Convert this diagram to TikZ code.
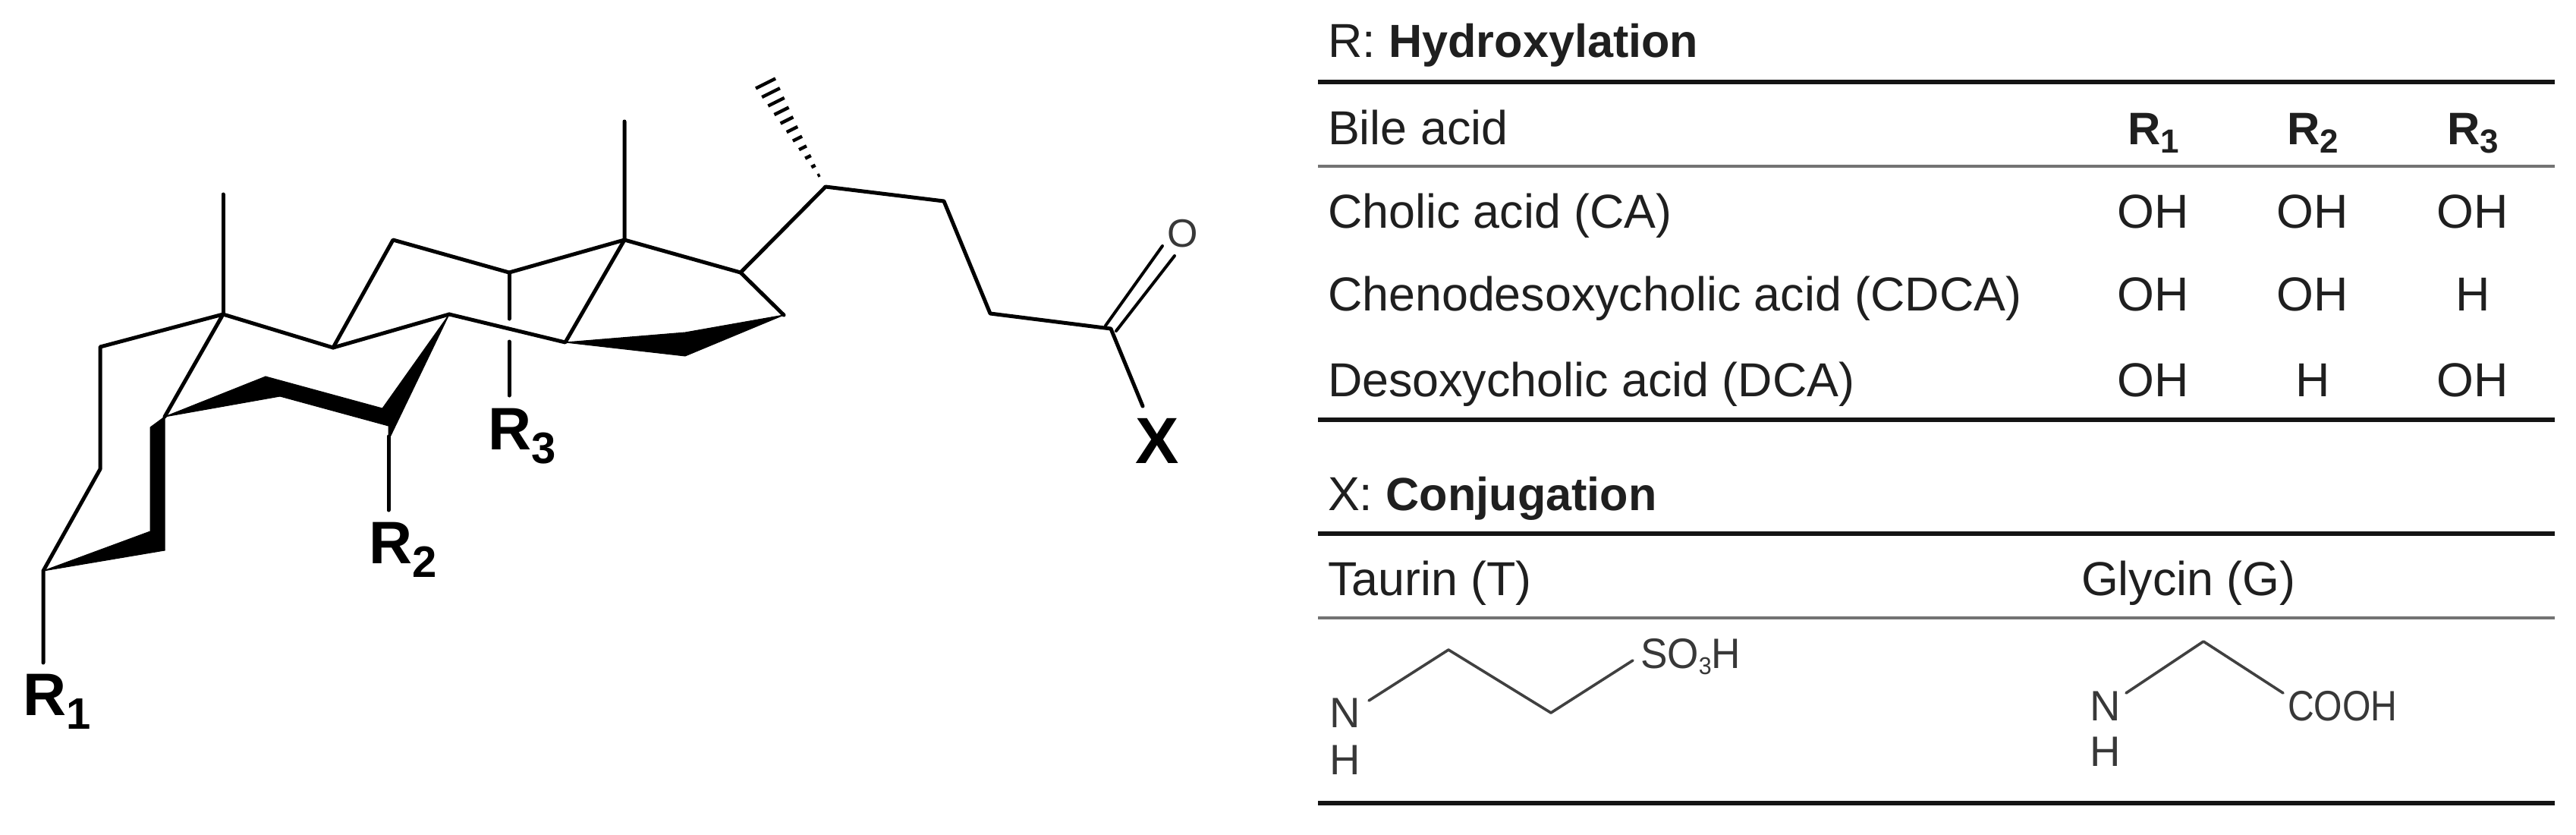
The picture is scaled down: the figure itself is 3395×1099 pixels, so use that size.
\documentclass[tikz,border=0pt]{standalone}
\usepackage{fontspec}
\setmainfont{Liberation Sans}
\usetikzlibrary{calc}
\newcommand\bigsub[1]{\raisebox{-9pt}{\fontsize{29}{29}\selectfont #1}}
\newcommand\tabsub[1]{\raisebox{-5.8pt}{\fontsize{22}{22}\selectfont #1}}
\newcommand\chemsub[1]{\raisebox{-4pt}{\fontsize{16}{16}\selectfont #1}}
\tikzset{
  bond/.style={line width=2.5pt,line join=round,line cap=round,black},
  solid wedge/.style={fill=black,draw=black,line width=0.5pt,line join=round},
  hashbar/.style={line width=2.2pt,black},
  lab/.style={inner sep=0pt,outer sep=0pt,anchor=base west},
  bigR/.style={lab,font=\fontsize{39.5}{41}\selectfont\bfseries},
  cell/.style={inner sep=0pt,outer sep=0pt,anchor=base west,font=\fontsize{31.4}{36}\selectfont,text=black!88},
  cc/.style={cell,anchor=base},
  heavy/.style={line width=2.6pt,black!92},
  light/.style={line width=1.6pt,black!55},
  chem/.style={line width=1.8pt,black!75,line cap=round,line join=round},
  atom/.style={inner sep=0pt,outer sep=0pt,anchor=base,font=\fontsize{28}{30}\selectfont,text=black!78},
}
\begin{document}
\begin{tikzpicture}[x=0.5pt,y=-0.5pt]
\useasboundingbox[fill=white] (0,0) rectangle (3395,1099);
% ---- skeleton atoms
\coordinate (me19) at (294,256);
\coordinate (c10) at (294,414);
\coordinate (c1) at (132,457);
\coordinate (c2) at (132,618);
\coordinate (c3) at (57,752);
\coordinate (r1end) at (57,873);
\coordinate (c5) at (217,549);
\coordinate (c9) at (439,458);
\coordinate (c11) at (518,316);
\coordinate (c12) at (671,359);
\coordinate (c13) at (823,316);
\coordinate (me18) at (823,160);
\coordinate (c8) at (592,414);
\coordinate (c14) at (745,451);
\coordinate (c17) at (976,359);
\coordinate (c16) at (1033,415);
\coordinate (c20) at (1088,246);
\coordinate (c22) at (1244,265);
\coordinate (c23) at (1305,413);
\coordinate (c24) at (1464,433);
\coordinate (xend) at (1506,535);
\coordinate (r2top) at (512,575);
\coordinate (r2end) at (512,672);
\coordinate (r3a) at (671,420);
\coordinate (r3b) at (671,450);
\coordinate (r3end) at (671,521);
\coordinate (o1a) at (1457,429);
\coordinate (o1b) at (1532,324);
\coordinate (o2a) at (1471,436);
\coordinate (o2b) at (1548,337);
% ---- thin bonds
\draw[bond] (me19) -- (c10);
\draw[bond] (c5) -- (c10) -- (c1) -- (c2) -- (c3) -- (r1end);
\draw[bond] (c10) -- (c9) -- (c8);
\draw[bond] (c9) -- (c11) -- (c12) -- (c13) -- (me18);
\draw[bond] (c8) -- (c14) -- (c13) -- (c17) -- (c16);
\draw[bond] (c17) -- (c20) -- (c22) -- (c23) -- (c24) -- (xend);
\draw[bond] (r2top) -- (r2end);
\draw[bond] (c12) -- (r3a);
\draw[bond] (r3b) -- (r3end);
\draw[bond,line width=2pt] (o1a) -- (o1b);
\draw[bond,line width=2pt] (o2a) -- (o2b);
% ---- bold wedges
\fill[solid wedge] (c3) -- (198,700) -- (217,725) -- cycle;
\fill[solid wedge] (198,563) -- (c5) -- (217,725) -- (198,700) -- cycle;
\fill[solid wedge] (c5) -- (350,496) -- (369,522) -- cycle;
\fill[solid wedge] (350,496) -- (504,538) -- (512,561) -- (369,522) -- cycle;
\fill[solid wedge] (c8) -- (504,538) -- (512,561) -- (512,580) -- cycle;
\fill[solid wedge] (c14) -- (903,438) -- (c16) -- (903,469) -- cycle;
% ---- hashed methyl
\coordinate (h0) at (1079,231);
\coordinate (h1) at (1009,110);
\foreach \t in {0,1,...,10}{
  \pgfmathsetmacro\f{\t/10}
  \pgfmathsetmacro\wx{1.5+11.5*\f}
  \pgfmathsetmacro\wy{0.75+5.75*\f}
  \draw[hashbar] ($(h0)!\f!(h1)+(-\wx,\wy)$) -- ($(h0)!\f!(h1)+(\wx,-\wy)$);
}
% ---- labels of the formula
\node[bigR] (R1) at (30,942) {R\bigsub{1}};
\node[bigR] (R2) at (486,742) {R\bigsub{2}};
\node[bigR] (R3) at (643,592) {R\bigsub{3}};
\node[bigR,anchor=base,font=\fontsize{43}{43}\selectfont\bfseries] (X) at (1525,610) {X};
\node[atom,font=\fontsize{26}{26}\selectfont] (O) at (1559,325) {O};
% ---- table rules
\coordinate (la) at (1737,108);  \coordinate (ra) at (3367,108);
\coordinate (lb) at (1737,219);  \coordinate (rb) at (3367,219);
\coordinate (lc) at (1737,553);  \coordinate (rc) at (3367,553);
\coordinate (ld) at (1737,703);  \coordinate (rd) at (3367,703);
\coordinate (le) at (1737,814);  \coordinate (re) at (3367,814);
\coordinate (lf) at (1737,1058); \coordinate (rf) at (3367,1058);
\draw[heavy] (la) -- (ra);
\draw[light] (lb) -- (rb);
\draw[heavy] (lc) -- (rc);
\draw[heavy] (ld) -- (rd);
\draw[light] (le) -- (re);
\draw[heavy] (lf) -- (rf);
% ---- table text
\node[cell] (t1) at (1750,75) {R: \textbf{\fontsize{30.6}{36}\selectfont Hydroxylation}};
\node[cell] (h0t) at (1750,190) {Bile acid};
\node[cc,font=\fontsize{30}{36}\selectfont\bfseries] (h1t) at (2838,190) {R\tabsub{1}};
\node[cc,font=\fontsize{30}{36}\selectfont\bfseries] (h2t) at (3048,190) {R\tabsub{2}};
\node[cc,font=\fontsize{30}{36}\selectfont\bfseries] (h3t) at (3259,190) {R\tabsub{3}};
\node[cell] (a0) at (1750,300) {Cholic acid (CA)};
\node[cc] (a1) at (2838,300) {OH};
\node[cc] (a2) at (3048,300) {OH};
\node[cc] (a3) at (3259,300) {OH};
\node[cell] (b0) at (1750,409) {Chenodesoxycholic acid (CDCA)};
\node[cc] (b1) at (2838,409) {OH};
\node[cc] (b2) at (3048,409) {OH};
\node[cc] (b3) at (3259,409) {H};
\node[cell] (c0) at (1750,522) {Desoxycholic acid (DCA)};
\node[cc] (c1t) at (2838,522) {OH};
\node[cc] (c2t) at (3048,522) {H};
\node[cc] (c3t) at (3259,522) {OH};
\node[cell] (t2) at (1750,672) {X: \textbf{\fontsize{30.6}{36}\selectfont Conjugation}};
\node[cell] (tau) at (1750,784) {Taurin (T)};
\node[cell] (gly) at (2743,784) {Glycin (G)};
% ---- taurine
\node[atom] (tN) at (1773,958) {N};
\node[atom] (tH) at (1773,1020) {H};
\node[atom,anchor=base west] (tS) at (2162,880) {\scalebox{.95}[1]{SO\chemsub{3}H}};
\coordinate (t1c) at (1804,923);
\coordinate (t2c) at (1909,856);
\coordinate (t3c) at (2044,939);
\coordinate (t4c) at (2152,870);
\draw[chem] (t1c) -- (t2c) -- (t3c) -- (t4c);
% ---- glycine
\node[atom] (gN) at (2775,949) {N};
\node[atom] (gH) at (2775,1009) {H};
\node[atom,anchor=base west] (gC) at (3015,949) {\scalebox{.86}[1]{COOH}};
\coordinate (g1c) at (2802,913);
\coordinate (g2c) at (2904,845);
\coordinate (g3c) at (3009,913);
\draw[chem] (g1c) -- (g2c) -- (g3c);
\end{tikzpicture}
\end{document}
